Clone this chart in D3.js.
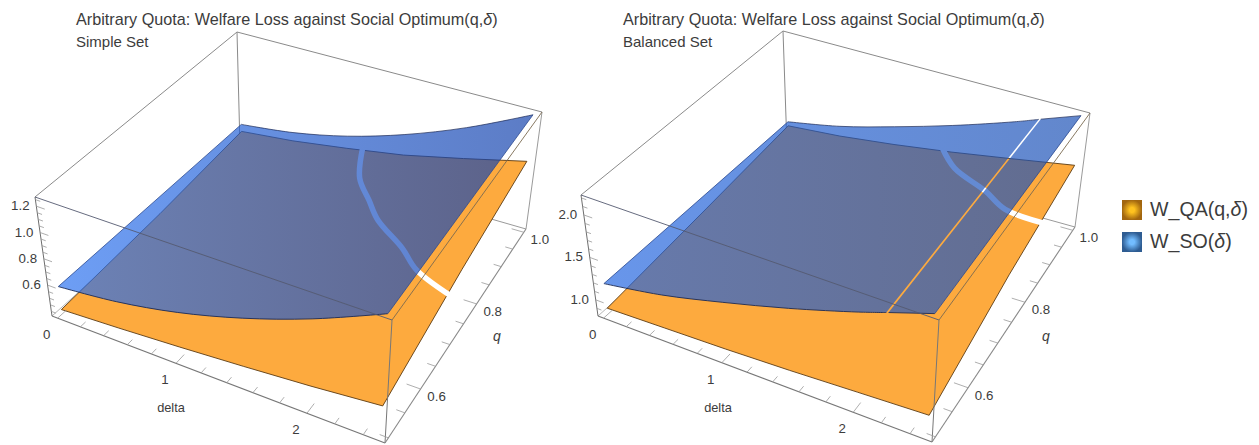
<!DOCTYPE html>
<html>
<head>
<meta charset="utf-8">
<script src="https://cdn.jsdelivr.net/npm/d3@7"></script>
<style>
  html, body { margin: 0; padding: 0; background: #fff; }
  svg { display: block; }
  text { font-family: "Liberation Sans", Arial, sans-serif; fill: #3c3c3c; }
</style>
</head>
<body>
<div id="chart"></div>
<script>
// values
const titleText = "Arbitrary Quota: Welfare Loss against Social Optimum(q,";
const subtitleLeft = "Simple Set";
const subtitleRight = "Balanced Set";

const deltaTicks = [0, 1, 2];
const qTicks = [0.6, 0.8, 1.0];
const zTicksLeft = [0.6, 0.8, 1.0, 1.2];
const zTicksRight = [1.0, 1.5, 2.0];

// W_SO depends on delta only
const soDelta = [0, 0.5, 1, 1.5, 2, 2.5];
const soValuesLeft = [0.575, 0.625, 0.715, 0.85, 1.03, 1.26];
const soValuesRight = [1.17, 1.29, 1.47, 1.68, 1.93, 2.22];

// W_QA(q, delta): one row per q
const qaDelta = [0, 0.5, 1, 1.5, 2, 2.5];
const qaQ = [0.5, 0.75, 1];
const qaValuesLeft = [
  [0.40, 0.425, 0.455, 0.49, 0.53, 0.58],
  [0.45, 0.49, 0.54, 0.60, 0.68, 0.76],
  [0.52, 0.56, 0.62, 0.69, 0.79, 0.90]
];
const qaValuesRight = [
  [0.88, 0.90, 0.92, 0.95, 0.99, 1.03],
  [1.00, 1.04, 1.10, 1.18, 1.27, 1.36],
  [1.12, 1.17, 1.25, 1.35, 1.47, 1.60]
];

// the break in W_QA
const gapDeltaLeft = [1.12, 1.3, 1.5, 1.68, 2.0, 2.2, 2.6];
const gapQLeft = [1.01, 0.925, 0.875, 0.83, 0.775, 0.735, 0.695];
const gapDeltaRight = [1.4, 1.62, 1.97, 2.2, 2.6];
const gapQRight = [1.01, 0.96, 0.915, 0.88, 0.865];

// thin break in W_SO, right panel only
const soSlitRight = [2.185, 2.2];

const width = 1259;
const height = 445;

const svg = d3.select("#chart").append("svg")
  .attr("width", width)
  .attr("height", height);

const defs = svg.append("defs");

function addGradient(id, x1, x2, from, to) {
  const g = defs.append("linearGradient")
    .attr("id", id)
    .attr("gradientUnits", "userSpaceOnUse")
    .attr("x1", x1).attr("x2", x2)
    .attr("y1", 0).attr("y2", 0);
  g.append("stop").attr("offset", "0%").attr("stop-color", from);
  g.append("stop").attr("offset", "100%").attr("stop-color", to);
}

addGradient("soLeft", 60, 535, "rgb(40,112,240)", "rgb(15,62,170)");
addGradient("soRight", 605, 1080, "rgb(32,100,225)", "rgb(24,78,180)");

// maps the unit square onto a screen quad
function squareToQuad(p) {
  const dx1 = p[1][0] - p[2][0], dx2 = p[3][0] - p[2][0], sx = p[0][0] - p[1][0] + p[2][0] - p[3][0];
  const dy1 = p[1][1] - p[2][1], dy2 = p[3][1] - p[2][1], sy = p[0][1] - p[1][1] + p[2][1] - p[3][1];
  const den = dx1 * dy2 - dx2 * dy1;
  const g = (sx * dy2 - dx2 * sy) / den;
  const h = (dx1 * sy - sx * dy1) / den;
  const a = p[1][0] - p[0][0] + g * p[1][0], b = p[3][0] - p[0][0] + h * p[3][0];
  const d = p[1][1] - p[0][1] + g * p[1][1], e = p[3][1] - p[0][1] + h * p[3][1];
  return (u, v) => {
    const w = g * u + h * v + 1;
    return [(a * u + b * v + p[0][0]) / w, (d * u + e * v + p[0][1]) / w];
  };
}

function drawPanel(cfg) {
  const g = svg.append("g");

  const x = d3.scaleLinear().domain([-0.05, 2.55]).range([0, 1]);
  const y = d3.scaleLinear().domain([0.49, 1.01]).range([0, 1]);
  const z = d3.scaleLinear().domain(cfg.zDomain).range([0, 1]);

  const bottom = squareToQuad(cfg.bottom);
  const top = squareToQuad(cfg.top);

  function project(dv, qv, zv) {
    const lo = bottom(x(dv), y(qv));
    const hi = top(x(dv), y(qv));
    const t = z(zv);
    return [lo[0] + (hi[0] - lo[0]) * t, lo[1] + (hi[1] - lo[1]) * t];
  }

  const [d0, d1] = x.domain();
  const [q0, q1] = y.domain();
  const [z0, z1] = z.domain();
  const line = d3.line();

  function edge(a, b, color, w) {
    g.append("path")
      .attr("d", line([project(...a), project(...b)]))
      .attr("fill", "none")
      .attr("stroke", color)
      .attr("stroke-width", w);
  }

  // box edges behind the surfaces
  edge([d0, q0, z0], [d0, q1, z0], "#b5b5b5", 1);
  edge([d0, q1, z0], [d1, q1, z0], "#9a9a9a", 1);
  edge([d0, q1, z0], [d0, q1, z1], "#8a8a8a", 1);
  edge([d0, q1, z1], [d0, q0, z1], "#8a8a8a", 1);
  edge([d0, q1, z1], [d1, q1, z1], "#8a8a8a", 1);
  edge([d1, q1, z0], [d1, q1, z1], "#9a9a9a", 1);

  // W_QA surface
  const qaAt = (dv, qv) => {
    const col = cfg.qa.map(row => d3.scaleLinear().domain(qaDelta).range(row)(dv));
    return d3.scaleLinear().domain(qaQ).range(col)(qv);
  };
  const qaEdge = [];
  qaDelta.forEach(dv => qaEdge.push(project(dv, qaQ[0], qaAt(dv, qaQ[0]))));
  qaQ.slice(1).forEach(qv => qaEdge.push(project(2.5, qv, qaAt(2.5, qv))));
  qaDelta.slice().reverse().slice(1).forEach(dv => qaEdge.push(project(dv, 1, qaAt(dv, 1))));
  qaQ.slice().reverse().slice(1, -1).forEach(qv => qaEdge.push(project(0, qv, qaAt(0, qv))));

  g.append("path")
    .attr("d", line(qaEdge) + "Z")
    .attr("fill", "#fdaa3e")
    .attr("stroke", "#5c3c14")
    .attr("stroke-width", 0.9)
    .attr("stroke-linejoin", "round");

  // break in W_QA
  const gapPts = cfg.gapDelta.map((dv, i) => project(dv, cfg.gapQ[i], qaAt(Math.min(dv, 2.5), Math.min(cfg.gapQ[i], 1))));
  g.append("path")
    .attr("d", d3.line().curve(d3.curveCatmullRom)(gapPts))
    .attr("fill", "none")
    .attr("stroke", "#fff")
    .attr("stroke-width", 5.5);

  // W_SO surface, cut in pieces where it has a slit
  const soAt = d3.scaleLinear().domain(soDelta).range(cfg.soValues);
  const cuts = cfg.slit ? [[0, cfg.slit[0]], [cfg.slit[1], 2.5]] : [[0, 2.5]];
  const curve = d3.line().curve(d3.curveCatmullRom);

  cuts.forEach(([a, b]) => {
    const ds = [a].concat(soDelta.filter(d => d > a && d < b), [b]);
    const front = ds.map(d => project(d, 0.5, soAt(d)));
    const back = ds.map(d => project(d, 1, soAt(d))).reverse();
    const body = curve(front) + "L" + curve(back).slice(1) + "Z";
    g.append("path")
      .attr("d", body)
      .attr("fill", `url(#${cfg.soFill})`)
      .attr("fill-opacity", 0.68);
    g.append("path")
      .attr("d", curve(front))
      .attr("fill", "none")
      .attr("stroke", "#1c2a55")
      .attr("stroke-width", 0.9);
    g.append("path")
      .attr("d", curve(back))
      .attr("fill", "none")
      .attr("stroke", "#1c2a55")
      .attr("stroke-width", 0.7);
  });
  const soLeftEdge = [project(0, 0.5, soAt(0)), project(0, 1, soAt(0))];
  const soRightEdge = [project(2.5, 0.5, soAt(2.5)), project(2.5, 1, soAt(2.5))];
  [soLeftEdge, soRightEdge].forEach(pts => {
    g.append("path")
      .attr("d", line(pts))
      .attr("fill", "none")
      .attr("stroke", "#2c4a90")
      .attr("stroke-width", 0.8);
  });

  // box edges in front
  edge([d0, q0, z0], [d0, q0, z1], "#6e6e6e", 1);
  edge([d0, q0, z1], [d1, q0, z1], "#555a70", 0.9);
  edge([d1, q0, z1], [d1, q1, z1], "#7a6a50", 0.9);
  edge([d1, q0, z0], [d1, q0, z1], "#777", 1);
  edge([d0, q0, z0], [d1, q0, z0], "#777", 1.1);
  edge([d1, q0, z0], [d1, q1, z0], "#888", 1.1);

  // ticks, drawn flat on the box faces
  x.ticks(13).forEach(t => {
    const major = deltaTicks.includes(t);
    edge([t, q0, z0], [t, q0 + (major ? 0.02 : 0.012), z0], "#999", 0.8);
  });
  y.ticks(10).forEach(t => {
    const major = qTicks.some(v => Math.abs(v - t) < 1e-6);
    edge([d1, t, z0], [d1 - (major ? 0.1 : 0.06), t, z0], "#999", 0.8);
  });
  z.ticks(cfg.zMinorCount).forEach(t => {
    const major = cfg.zTicks.some(v => Math.abs(v - t) < 1e-6);
    edge([d0, q0, t], [d0 + (major ? 0.07 : 0.04), q0, t], "#999", 0.8);
  });

  // tick labels
  const tickLabel = (p, dx, dy, s) => g.append("text")
    .attr("x", p[0] + dx)
    .attr("y", p[1] + dy)
    .attr("text-anchor", "middle")
    .attr("font-size", 13.3)
    .text(s);

  deltaTicks.forEach(t => tickLabel(project(t, q0, z0), -11, 21, t));
  qTicks.forEach(t => tickLabel(project(d1, t, z0), 16, 12, d3.format(".1f")(t)));
  cfg.zTicks.forEach(t => tickLabel(project(d0, q0, t), -16, 4, d3.format(".1f")(t)));

  g.append("text")
    .attr("x", cfg.deltaLabel[0]).attr("y", cfg.deltaLabel[1])
    .attr("text-anchor", "middle")
    .attr("font-size", 12.8)
    .text("delta");
  g.append("text")
    .attr("x", cfg.qLabel[0]).attr("y", cfg.qLabel[1])
    .attr("text-anchor", "middle")
    .attr("font-size", 14)
    .attr("font-style", "italic")
    .text("q");

  // titles
  const title = g.append("text")
    .attr("x", cfg.titleX).attr("y", 25)
    .attr("font-size", 16.2)
    .text(titleText);
  title.append("tspan").attr("font-style", "italic").text("\u03b4");
  title.append("tspan").text(")");
  g.append("text")
    .attr("x", cfg.titleX).attr("y", 47)
    .attr("font-size", 15)
    .text(cfg.subtitle);
}

drawPanel({
  bottom: [[52, 316], [385, 443], [526, 229], [240, 147]],
  top: [[35, 197], [392, 320], [542, 112], [237, 32]],
  zDomain: [0.365, 1.27],
  zTicks: zTicksLeft,
  zMinorCount: 18,
  soValues: soValuesLeft,
  soFill: "soLeft",
  qa: qaValuesLeft,
  gapDelta: gapDeltaLeft,
  gapQ: gapQLeft,
  deltaLabel: [171, 412],
  qLabel: [497, 341],
  titleX: 76,
  subtitle: subtitleLeft
});

drawPanel({
  bottom: [[598, 316], [932, 442], [1075, 227], [787, 147]],
  top: [[581, 195], [939, 320], [1090, 113], [783, 31]],
  zDomain: [0.81, 2.235],
  zTicks: zTicksRight,
  zMinorCount: 14,
  soValues: soValuesRight,
  soFill: "soRight",
  qa: qaValuesRight,
  gapDelta: gapDeltaRight,
  gapQ: gapQRight,
  slit: soSlitRight,
  deltaLabel: [718, 412],
  qLabel: [1046, 341],
  titleX: 623,
  subtitle: subtitleRight
});

// legend
const legendNames = [["W_QA(q,", "\u03b4", ")"], ["W_SO(", "\u03b4", ")"]];
const legendCenters = ["#ffc21f", "#72bcff"];
const legendEdges = ["#a2660f", "#2e5c92"];

legendNames.forEach((name, i) => {
  const grad = defs.append("radialGradient").attr("id", "swatch" + i);
  grad.append("stop").attr("offset", "25%").attr("stop-color", legendCenters[i]);
  grad.append("stop").attr("offset", "100%").attr("stop-color", legendEdges[i]);

  const row = svg.append("g").attr("transform", `translate(1122,${200 + i * 32})`);
  row.append("rect")
    .attr("width", 20)
    .attr("height", 20)
    .attr("fill", `url(#swatch${i})`);
  const label = row.append("text")
    .attr("x", 28)
    .attr("y", 15.5)
    .attr("font-size", 19.6)
    .text(name[0]);
  label.append("tspan").attr("font-style", "italic").text(name[1]);
  label.append("tspan").text(name[2]);
});
</script>
</body>
</html>
